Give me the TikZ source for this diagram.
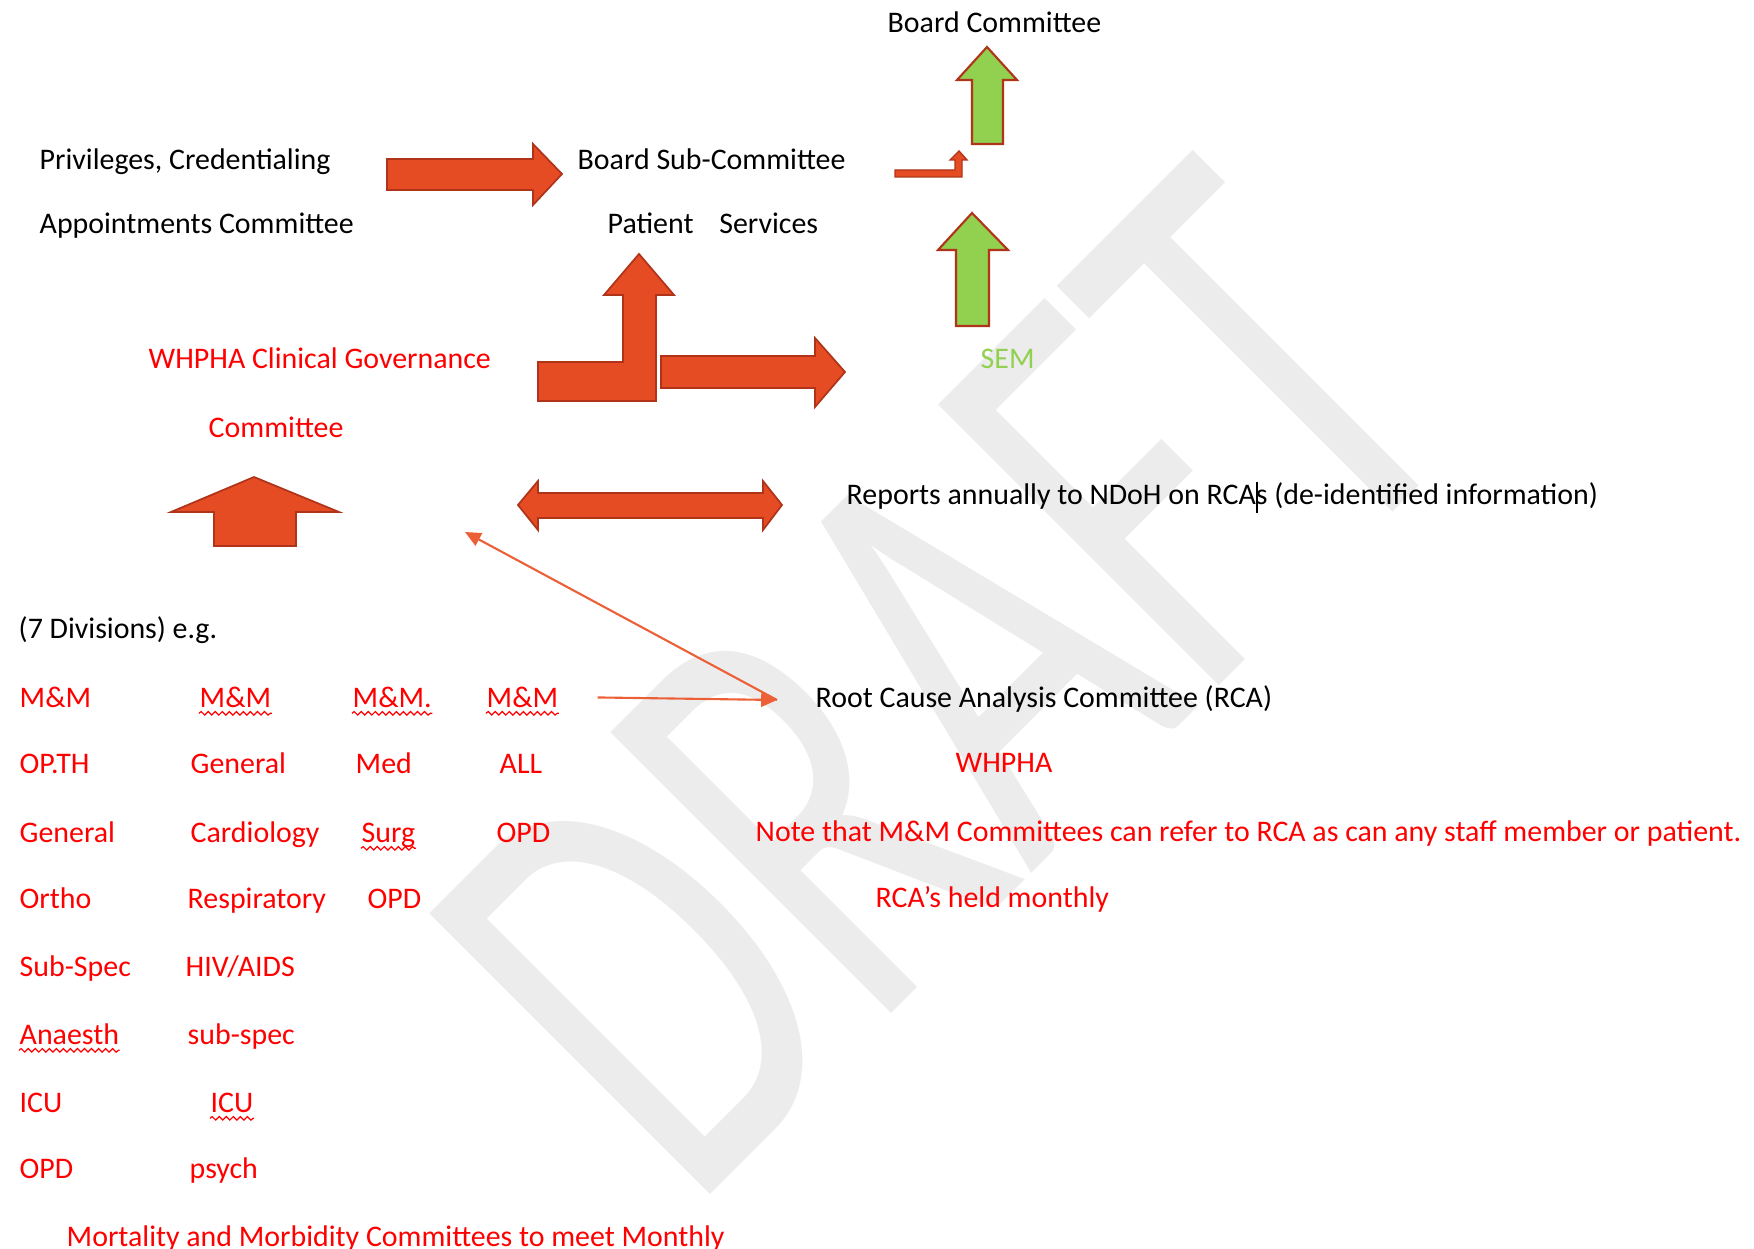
\documentclass[tikz,border=0pt]{standalone}
\usepackage{fontspec}
\setmainfont{Carlito}
\usetikzlibrary{arrows.meta,decorations.pathmorphing}
\definecolor{arrowfill}{RGB}{230,76,36}
\definecolor{arrowedge}{RGB}{176,52,26}
\definecolor{semgreen}{RGB}{146,208,80}
\definecolor{wmgray}{RGB}{236,236,236}
\definecolor{linkred}{RGB}{236,96,56}

\begin{document}
\begin{tikzpicture}[x=0.01cm,y=-0.01cm,
  lbl/.style={inner sep=0pt,anchor=base west,font=\fontsize{8.5pt}{10pt}\selectfont},
  redlbl/.style={lbl,text=red},
  blockarrow/.style={fill=arrowfill,draw=arrowedge,line width=0.5pt},
  greenarrow/.style={fill=semgreen,draw=arrowedge,line width=0.6pt},
  thinarrow/.style={draw=linkred,line width=0.6pt,-{Triangle[length=4.5pt,width=4pt]}},
  squiggle/.style={draw=red,line width=0.35pt,decorate,decoration={snake,amplitude=0.5pt,segment length=2pt}}]
\useasboundingbox (0,0) rectangle (1754,1249);

% watermark
\node[text=wmgray,inner sep=0pt,anchor=base,rotate=45,xscale=0.67,font=\fontsize{176pt}{176pt}\selectfont] (draft) at (1084,821) {DRAFT};

% top part
\node[lbl] (boardc) at (887,33) {Board Committee};
\node[lbl] (priv) at (39,170) {Privileges, Credentialing};
\node[lbl] (appt) at (39,234) {Appointments Committee};
\node[lbl] (bsub) at (577,170) {Board Sub-Committee};
\node[lbl] (pserv) at (607,234) {Patient\hspace{0.19cm} Services};
\node[redlbl] (cg) at (148,369) {WHPHA Clinical Governance};
\node[redlbl] (cgc) at (208,438) {Committee};
\node[lbl,text=semgreen] (sem) at (980,369) {SEM};
\node[lbl] (ndoh) at (846,505) {Reports annually to NDoH on RCA\rlap{\rule[-0.27em]{0.5pt}{1.05em}}s (de-identified information)};

% divisions
\node[lbl] (div) at (18,639) {(7 Divisions) e.g.};
\node[redlbl] (mm1) at (19,707) {M\&M};
\node[redlbl] (opth) at (19,773) {OP.TH};
\node[redlbl] (gen1) at (19,842) {General};
\node[redlbl] (ortho) at (19,908) {Ortho};
\node[redlbl] (subsp1) at (19,976) {Sub-Spec};
\node[redlbl] (anaes) at (19,1044) {Anaesth};
\node[redlbl] (icu1) at (19,1112) {ICU};
\node[redlbl] (opd1) at (19,1178) {OPD};
\node[redlbl] (mm2) at (199,707) {M\&M};
\node[redlbl] (gen2) at (190,773) {General};
\node[redlbl] (cardio) at (190,842) {Cardiology};
\node[redlbl] (resp) at (187,908) {Respiratory};
\node[redlbl] (hiv) at (185,976) {HIV/AIDS};
\node[redlbl] (subsp2) at (187,1044) {sub-spec};
\node[redlbl] (icu2) at (210,1112) {ICU};
\node[redlbl] (psych) at (189,1178) {psych};
\node[redlbl] (mm3) at (352,707) {M\&M.};
\node[redlbl] (med) at (355,773) {Med};
\node[redlbl] (surg) at (361,842) {Surg};
\node[redlbl] (opd3) at (367,908) {OPD};
\node[redlbl] (mm4) at (486,707) {M\&M};
\node[redlbl] (all) at (499,773) {ALL};
\node[redlbl] (opd4) at (496,842) {OPD};
\node[redlbl] (monthly) at (66,1246) {Mortality and Morbidity Committees to meet Monthly};
\foreach \n in {mm2,mm3,mm4,surg,anaes,icu2}
  \draw[squiggle] ([yshift=-1.8pt]\n.base west) -- ([yshift=-1.8pt]\n.base east);

% rca
\node[lbl] (rca) at (815,707) {Root Cause Analysis Committee (RCA)};
\node[redlbl] (rcaorg) at (955,772) {WHPHA};
\node[redlbl] (note) at (755,841) {Note that M\&M Committees can refer to RCA as can any staff member or patient.};
\node[redlbl] (held) at (875,907) {RCA’s held monthly};

% block arrows
\filldraw[blockarrow] (387,159) -- (533,159) -- (533,144) -- (562,174) -- (533,205) -- (533,190) -- (387,190) -- cycle;
\filldraw[blockarrow] (538,401) -- (656,401) -- (656,295) -- (674,295) -- (639,254) -- (604,295) -- (623,295) -- (623,362) -- (538,362) -- cycle;
\filldraw[blockarrow] (661,356) -- (815,356) -- (815,338) -- (845,372) -- (815,407) -- (815,388) -- (661,388) -- cycle;
\filldraw[blockarrow] (214,546) -- (214,512) -- (171,512) -- (254,477) -- (339,512) -- (296,512) -- (296,546) -- cycle;
\filldraw[blockarrow] (518,505) -- (538,481) -- (538,493) -- (763,493) -- (763,481) -- (782,505) -- (763,530) -- (763,518) -- (538,518) -- (538,530) -- cycle;
\filldraw[blockarrow,line width=0.4pt] (895,170) -- (955,170) -- (955,160) -- (950,160) -- (959,151) -- (967,160) -- (962,160) -- (962,177) -- (895,177) -- cycle;
\filldraw[greenarrow] (972,144) -- (972,80) -- (957,80) -- (987,47) -- (1017,80) -- (1003,80) -- (1003,144) -- cycle;
\filldraw[greenarrow] (956,326) -- (956,250) -- (938,250) -- (972,213) -- (1008,250) -- (989,250) -- (989,326) -- cycle;

% thin arrows
\coordinate (rcatip) at (777,700);
\coordinate (cgtip) at (465,532);
\draw[thinarrow,shorten <=11pt] (mm4.east) -- (rcatip);
\draw[thinarrow] (rcatip) -- (cgtip);
\end{tikzpicture}
\end{document}
